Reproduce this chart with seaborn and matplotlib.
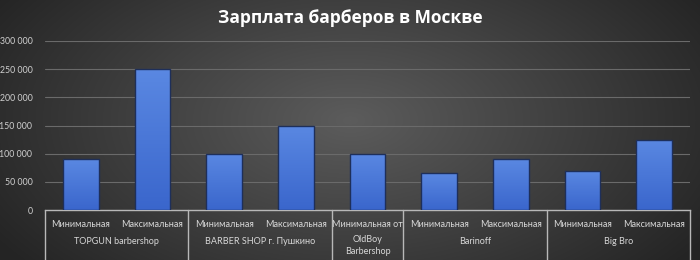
import numpy as np
import pandas as pd
import matplotlib
matplotlib.use("Agg")
import matplotlib.pyplot as plt
import matplotlib.transforms as mtrans
from matplotlib.colors import LinearSegmentedColormap
import seaborn as sns

# ---- data ----
bar_labels = ["Минимальная", "Максимальная", "Минимальная", "Максимальная",
              "Минимальная от", "Минимальная", "Максимальная", "Минимальная", "Максимальная"]
bar_groups = ["TOPGUN barbershop", "TOPGUN barbershop",
              "BARBER SHOP г. Пушкино", "BARBER SHOP г. Пушкино",
              "OldBoy\nBarbershop",
              "Barinoff", "Barinoff", "Big Bro", "Big Bro"]
salaries = [90000, 250000, 100000, 150000, 100000, 65000, 90000, 70000, 125000]
yticks = [0, 50000, 100000, 150000, 200000, 250000, 300000]
ytick_labels = ["0", "50 000", "100 000", "150 000", "200 000", "250 000", "300 000"]
title = "Зарплата барберов в Москве"

sns.set_theme(style="dark")
plt.rcParams["font.family"] = ["Lato", "DejaVu Sans"]

W, H = 700, 260
fig = plt.figure(figsize=(7, 2.6), dpi=100)

# background radial gradient
bg = fig.add_axes([0, 0, 1, 1], zorder=-10)
yy, xx = np.mgrid[0:H, 0:W]
r = np.sqrt(((xx - 350) / 420.0) ** 2 + ((yy - 120) / 230.0) ** 2)
r = np.clip(r, 0, 1)
c_center = np.array([0x5c, 0x5c, 0x5c]) / 255
c_edge = np.array([0x24, 0x24, 0x24]) / 255
img = c_center[None, None, :] * (1 - r[..., None]) + c_edge[None, None, :] * r[..., None]
bg.imshow(img, aspect="auto", extent=[0, 1, 0, 1])
bg.axis("off")

ax = fig.add_axes([45 / W, (H - 210) / H, (690 - 45) / W, 169 / H])
ax.set_facecolor("none")

df = pd.DataFrame({"pos": [str(i) for i in range(len(salaries))],
                   "label": bar_labels, "group": bar_groups, "value": salaries})
sns.barplot(data=df, x="pos", y="value", ax=ax, width=0.5,
            color="#4a78da", edgecolor="#1e2f5a", linewidth=1.0, zorder=3)

# gradient fill for bars
cmap = LinearSegmentedColormap.from_list("bar", ["#3a66cc", "#5a88e2"])
grad = np.linspace(0, 1, 256).reshape(-1, 1)
for p in ax.patches:
    x0, y0 = p.get_x(), p.get_y()
    w, h = p.get_width(), p.get_height()
    im = ax.imshow(grad, cmap=cmap, aspect="auto", origin="lower",
                   extent=[x0, x0 + w, y0, y0 + h], zorder=3.5)
    im.set_clip_path(p)
    p.set_zorder(4)
    p.set_facecolor("none")

ax.set_xlim(-0.5, len(salaries) - 0.5)
ax.set_ylim(0, 300000)
ax.set_yticks(yticks)
ax.set_yticklabels(ytick_labels, color="#d0d0d0", fontsize=6.3)
ax.set_xticks(range(len(salaries)))
ax.set_xticklabels(bar_labels, color="#d8d8d8", fontsize=6.5)
ax.tick_params(axis="x", length=0, pad=7)
ax.tick_params(axis="y", length=0, pad=9)
ax.set_xlabel("")
ax.set_ylabel("")
ax.yaxis.grid(True, color="#6a6a6a", linewidth=0.8, zorder=0)
ax.xaxis.grid(False)
for s in ["top", "right", "left"]:
    ax.spines[s].set_visible(False)
ax.spines["bottom"].set_color("#b8b8b8")
ax.spines["bottom"].set_linewidth(1.0)

# group labels and separators
trans = mtrans.blended_transform_factory(ax.transData, ax.transAxes)
groups = []
for i, g in enumerate(bar_groups):
    if groups and groups[-1][0] == g:
        groups[-1][2] = i
    else:
        groups.append([g, i, i])
for g, a, b in groups:
    cx = (a + b) / 2
    if "\n" in g:
        ax.text(cx, -0.15, g, transform=trans, ha="center", va="top",
                color="#d8d8d8", fontsize=6.5, linespacing=1.45)
    else:
        ax.text(cx, -0.16, g, transform=trans, ha="center", va="top",
                color="#d8d8d8", fontsize=6.5)
seps = [-0.5] + [b + 0.5 for _, _, b in groups]
for sx in seps:
    ax.plot([sx, sx], [0, -0.31], transform=trans, color="#b8b8b8",
            linewidth=1.0, clip_on=False, zorder=5)

fig.text(0.5, 1 - 18 / H, title, ha="center", va="center", color="white",
         fontsize=12.5, fontweight="bold", family=["Open Sans", "DejaVu Sans"])

fig.savefig("out.png", dpi=100)
